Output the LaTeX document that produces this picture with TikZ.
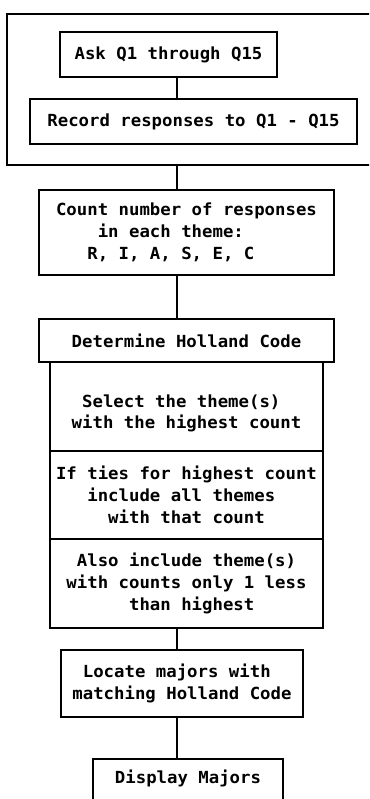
\documentclass[tikz,border=0pt]{standalone}
\usepackage{fontspec}
\newfontfamily\dotfont{DejaVu Sans Mono}[FakeStretch=1.04]
\usetikzlibrary{positioning}
\newdimen\px \px=0.75pt

\begin{document}
\begin{tikzpicture}[
    x=0.75pt, y=-0.75pt,
    every node/.style={font=\dotfont\bfseries\fontsize{12.5}{16.3}\selectfont},
    stepbox/.style={draw, line width=1pt, inner sep=0pt, align=left},
    link/.style={draw, line width=1pt},
]
\clip (0,0) rectangle (369,799);
\coordinate (spine) at (177,0);
% input loop frame
\node[stepbox, minimum width=373\px, minimum height=151\px] (frame) at (193.5,89.5) {};
\node[stepbox, minimum width=217\px, minimum height=45\px] (ask) at (168.5,54.5) {Ask Q1 through Q15};
\node[stepbox, minimum width=327\px, minimum height=45\px] (rec) at (193.5,121.5) {Record responses to Q1 - Q15};
\node[stepbox, minimum width=295\px, minimum height=85\px] (count) at (186.5,232.5)
  {Count number of responses\\\hphantom{xxxx}in each theme:\\\hphantom{xxx}R, I, A, S, E, C};
\node[stepbox, minimum width=295\px, minimum height=43\px] (det) at (186.5,340.5) {Determine Holland Code};
% the three rules under Determine Holland Code
\node[stepbox, minimum width=273\px, minimum height=89\px] (sel) at (186.5,406.5)
  {\rule{0pt}{20pt}\hphantom{x}Select the theme(s)\\with the highest count};
\node[stepbox, minimum width=273\px, minimum height=88\px] (ties) at (186.5,495)
  {If ties for highest count\\\hphantom{xxx}include all themes\\\hphantom{xxxxx}with that count};
\node[stepbox, minimum width=273\px, minimum height=89\px] (also) at (186.5,583.5)
  {\hphantom{x}Also include theme(s)\\with counts only 1 less\\\hphantom{xxxxxx}than highest};
\node[stepbox, minimum width=242\px, minimum height=67\px] (loc) at (182,683.5)
  {\hphantom{x}Locate majors with\\matching Holland Code};
\node[stepbox, minimum width=190\px, minimum height=46\px] (disp) at (188,782)
  {\rule[-8pt]{0pt}{0pt}Display Majors};
\draw[link] (ask.south -| spine) -- (rec.north -| spine);
\draw[link] (frame.south -| spine) -- (count.north -| spine);
\draw[link] (count.south -| spine) -- (det.north -| spine);
\draw[link] (also.south -| spine) -- (loc.north -| spine);
\draw[link] (loc.south -| spine) -- (disp.north -| spine);
\end{tikzpicture}
\end{document}
